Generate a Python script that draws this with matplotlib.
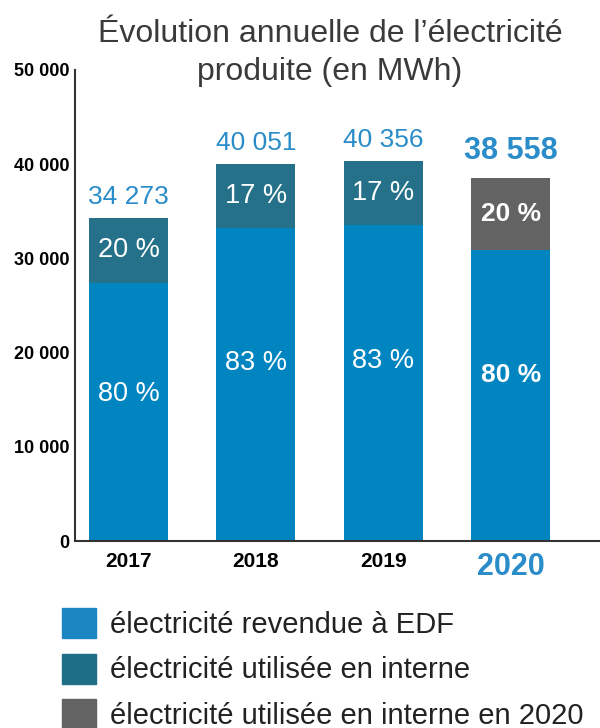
import numpy as np
import matplotlib.pyplot as plt
from matplotlib.patches import Patch

plt.rcParams['font.family'] = ['Liberation Sans', 'DejaVu Sans']

# data
years = ['2017', '2018', '2019', '2020']
totals = [34273, 40051, 40356, 38558]
pct_sold = [80, 83, 83, 80]
pct_internal = [20, 17, 17, 20]
total_labels = ['34 273', '40 051', '40 356', '38 558']
yticks = [0, 10000, 20000, 30000, 40000, 50000]
ytick_labels = ['0', '10 000', '20 000', '30 000', '40 000', '50 000']
legend_labels = ['électricité revendue à EDF',
                 'électricité utilisée en interne',
                 'électricité utilisée en interne en 2020']

blue = '#0085c0'
teal = '#26718a'
grey = '#636363'
label_blue = '#2a8cc8'

totals = np.array(totals)
sold = totals * np.array(pct_sold) / 100
internal = totals - sold
x = np.arange(len(years))
top_colors = [teal, teal, teal, grey]

fig = plt.figure(figsize=(6, 7.28), dpi=100)
# axes: left spine at x=75px, baseline at y=541px, top ~70px
ax = fig.add_axes([0.125, 1 - 541 / 728, 0.875, 471 / 728])

ax.bar(x, sold, width=0.62, color=blue)
ax.bar(x, internal, bottom=sold, width=0.62, color=top_colors)

for i in range(len(years)):
    bold = (i == 3)
    w = 'bold' if bold else 'normal'
    fs_in = 19 if bold else 19.5
    ax.text(x[i], sold[i] * 0.57, f'{pct_sold[i]} %', color='white',
            ha='center', va='center', fontsize=fs_in, fontweight=w)
    ax.text(x[i], sold[i] + internal[i] / 2, f'{pct_internal[i]} %', color='white',
            ha='center', va='center', fontsize=fs_in, fontweight=w)
    ax.annotate(total_labels[i], (x[i], totals[i]), xytext=(0, 8.5 if bold else 6.5),
                textcoords='offset points', ha='center', va='bottom',
                color=label_blue, fontsize=22 if bold else 19, fontweight=w)

ax.set_ylim(0, 50000)
ax.set_xlim(-0.42, 3.70)
ax.set_yticks(yticks)
ax.set_yticklabels(ytick_labels, fontsize=13, fontweight='bold')
ax.set_xticks(x)
ax.set_xticklabels(years, fontsize=15, fontweight='bold')
xl = ax.get_xticklabels()[3]
xl.set_fontsize(22)
xl.set_color(label_blue)
ax.tick_params(axis='both', length=0)
ax.tick_params(axis='x', pad=8)
ax.tick_params(axis='y', pad=4)
for s in ['top', 'right']:
    ax.spines[s].set_visible(False)
for s in ['left', 'bottom']:
    ax.spines[s].set_color('#333333')
    ax.spines[s].set_linewidth(1.5)

fig.text(0.55, 1 - 53 / 728, 'Évolution annuelle de l’électricité\nproduite (en MWh)',
         ha='center', va='center', fontsize=23, color='#3a3a3a', linespacing=1.38)

handles = [Patch(color='#1b86c1'), Patch(color='#1f6e87'), Patch(color=grey)]
fig.legend(handles, legend_labels, loc='upper left', bbox_to_anchor=(0.06, 1 - 582 / 728),
           frameon=False, fontsize=21, handlelength=1.15, handleheight=1.2,
           labelspacing=0.5, handletextpad=0.5, labelcolor='#222222')

fig.savefig('out.png', dpi=100)
